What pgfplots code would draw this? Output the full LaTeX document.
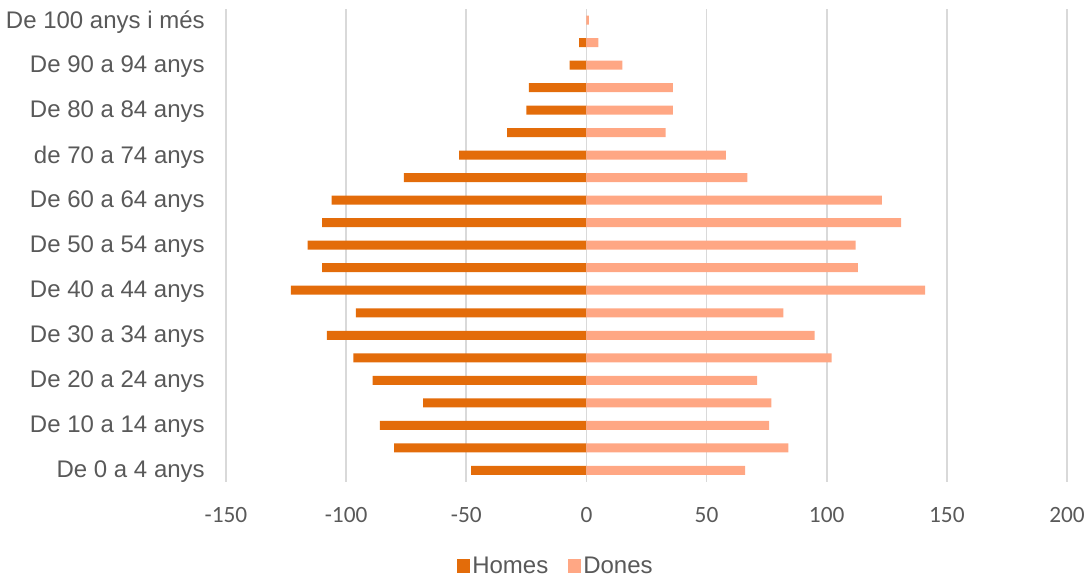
\documentclass[border=0pt]{standalone}
\usepackage{pgfplots}
\pgfplotsset{compat=1.18}
\usepackage{fontspec}
\setmainfont{Liberation Sans}
\newfontfamily\carlito{Carlito}
\definecolor{homes}{HTML}{E36C0A}
\definecolor{dones}{HTML}{FFA784}
\definecolor{txt}{HTML}{595959}
\definecolor{grd}{HTML}{D9D9D9}
\begin{document}
\begin{tikzpicture}[x=1pt,y=1pt]
\begin{axis}[
  name=ax,
  scale only axis,
  width=630.75pt, height=354.375pt,
  xbar, bar shift=0pt, bar width=0.4,
  xmin=-150, xmax=200, ymin=-0.5, ymax=20.5,
  xtick={-150,-100,...,200},
  ytick={0,2,...,20},
  yticklabels={De 0 a 4 anys, De 10 a 14 anys, De 20 a 24 anys, De 30 a 34 anys,
    De 40 a 44 anys, De 50 a 54 anys, De 60 a 64 anys, de 70 a 74 anys,
    De 80 a 84 anys, De 90 a 94 anys, De 100 anys i més},
  xmajorgrids, major grid style={grd, line width=1.2pt},
  axis line style={draw=none},
  major tick length=0pt,
  /pgf/number format/assume math mode=true,
  xticklabel style={font=\carlito\fontsize{17.5}{20}\selectfont, text=txt,
    inner sep=0pt, anchor=center, yshift=-25.1pt},
  yticklabel style={font=\fontsize{18}{21}\selectfont, text=txt,
    inner sep=0pt, anchor=east, xshift=-15.75pt, yshift=-1.2pt},
  legend style={at={(0.3924,-0.1788)}, anchor=center, draw=none, fill=none,
    legend columns=2, font=\fontsize{18}{21}\selectfont, text=txt,
    /tikz/every even column/.append style={column sep=12.5pt}},
  legend image code/.code={\fill[#1] (0pt,-4.9pt) rectangle (9.75pt,4.9pt);},
]
\addplot[draw=none, fill=homes] coordinates {
  (-48,0) (-80,1) (-86,2) (-68,3) (-89,4) (-97,5) (-108,6) (-96,7) (-123,8)
  (-110,9) (-116,10) (-110,11) (-106,12) (-76,13) (-53,14) (-33,15) (-25,16)
  (-24,17) (-7,18) (-3,19) (0,20)};
\addlegendentry{Homes}
\addplot[draw=none, fill=dones] coordinates {
  (66,0) (84,1) (76,2) (77,3) (71,4) (102,5) (95,6) (82,7) (141,8) (113,9)
  (112,10) (131,11) (123,12) (67,13) (58,14) (33,15) (36,16) (36,17) (15,18)
  (5,19) (1,20)};
\addlegendentry{Dones}
\end{axis}
\pgfresetboundingbox
\path ([xshift=-169.5pt, yshift=-73.125pt]ax.south west) rectangle ([xshift=16.5pt, yshift=6.75pt]ax.north east);
\end{tikzpicture}
\end{document}
